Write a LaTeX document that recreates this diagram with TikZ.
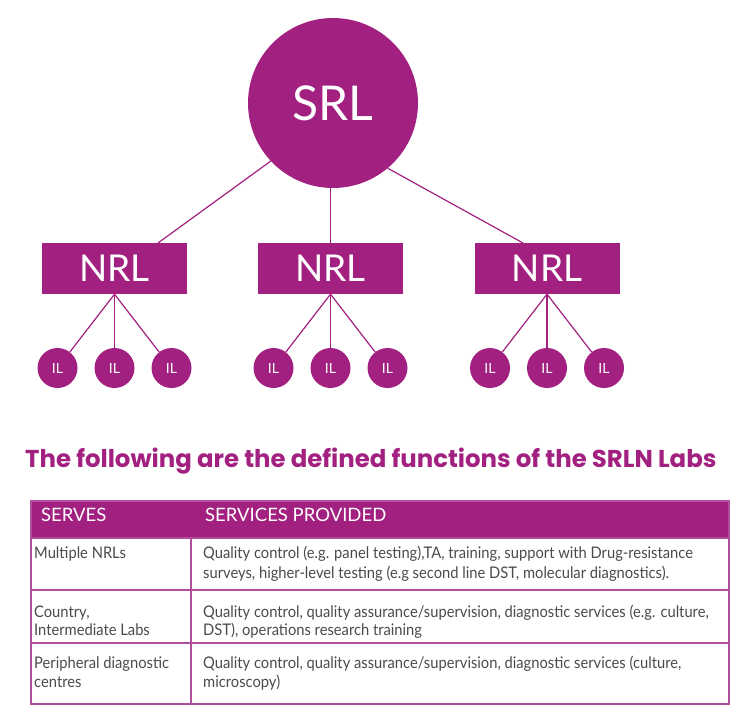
\documentclass[tikz,border=0pt]{standalone}
\usepackage{fontspec}
\setmainfont{Lato}
\newfontfamily\titlefont{Poppins}
\newfontfamily\tabfont{Lato}[FakeStretch=0.92]
\definecolor{srlpurple}{HTML}{A2207F}
\definecolor{tabline}{HTML}{B24F9C}
\definecolor{txtgrey}{HTML}{4A4A4A}
\tikzset{
  conn/.style={draw=srlpurple, line width=1.2pt},
  srlcirc/.style={circle, fill=srlpurple, minimum size=170pt, inner sep=0pt, text=white, font=\fontsize{48}{48}\selectfont},
  nrlbox/.style={rectangle, fill=srlpurple, minimum width=145pt, minimum height=51pt, inner sep=0pt, text=white, font=\fontsize{37}{37}\selectfont},
  ilcirc/.style={circle, fill=srlpurple, minimum size=40pt, inner sep=0pt, text=white, font=\fontsize{14}{14}\selectfont},
  headtxt/.style={anchor=base west, inner sep=0pt, text=white, font=\fontsize{18.5}{18.5}\selectfont},
  celltxt/.style={anchor=base west, inner sep=0pt, text=txtgrey, font=\tabfont\fontsize{16}{16}\selectfont},
  tabrule/.style={draw=tabline, line width=1.5pt}
}
\begin{document}
\begin{tikzpicture}[x=1pt,y=-1pt]
\useasboundingbox (0,0) rectangle (740,720);
% hierarchy
\node[srlcirc] (srl) at (333,103) {SRL};
\node[nrlbox] (nrl1) at (114.5,268.5) {NRL};
\node[nrlbox] (nrl2) at (330.5,268.5) {NRL};
\node[nrlbox] (nrl3) at (547,268.5) {NRL};
\coordinate (n1top) at (158,243);
\coordinate (n3top) at (523,243);
\draw[conn] (srl.223) -- (n1top);
\draw[conn] (srl.south -| nrl2.north) -- (nrl2.north);
\draw[conn] (srl.310) -- (n3top);
\foreach \g/\cx in {1/114.5,2/330.5,3/547}{
  \node[ilcirc] (il\g a) at (\cx-57,368) {IL};
  \node[ilcirc] (il\g b) at (\cx,368) {IL};
  \node[ilcirc] (il\g c) at (\cx+57,368) {IL};
  \draw[conn] (nrl\g.south) -- (il\g a);
  \draw[conn] (nrl\g.south) -- (il\g b);
  \draw[conn] (nrl\g.south) -- (il\g c);
}
% title
\node[anchor=base west, inner sep=0pt, text=srlpurple, font=\titlefont\bfseries\fontsize{24.4}{24.4}\selectfont] (title) at (25,467) {The following are the defined functions of the SRLN Labs};
% table
\fill[srlpurple] (31,501) rectangle (729,538);
\draw[tabrule] (31,501) rectangle (729,704);
\draw[tabrule] (31,538) -- (729,538);
\draw[tabrule] (31,590) -- (729,590);
\draw[tabrule] (31,643) -- (729,643);
\draw[tabrule] (191,538) -- (191,704);
\node[headtxt] (h1) at (41,521) {SERVES};
\node[headtxt] (h2) at (205,521) {SERVICES PROVIDED};
\node[celltxt] (r1a) at (34,558) {Multiple NRLs};
\node[celltxt] (r1b) at (203,558) {Quality control (e.g. panel testing),TA, training, support with Drug-resistance};
\node[celltxt] (r1c) at (203,578) {surveys, higher-level testing (e.g second line DST, molecular diagnostics).};
\node[celltxt] (r2a) at (34,617) {Country,};
\node[celltxt] (r2b) at (34,635) {Intermediate Labs};
\node[celltxt] (r2c) at (203,617) {Quality control, quality assurance/supervision, diagnostic services (e.g. culture,};
\node[celltxt] (r2d) at (203,635) {DST), operations research training};
\node[celltxt] (r3a) at (34,668) {Peripheral diagnostic};
\node[celltxt] (r3b) at (34,687) {centres};
\node[celltxt] (r3c) at (203,668) {Quality control, quality assurance/supervision, diagnostic services (culture,};
\node[celltxt] (r3d) at (203,687) {microscopy)};
\end{tikzpicture}
\end{document}
